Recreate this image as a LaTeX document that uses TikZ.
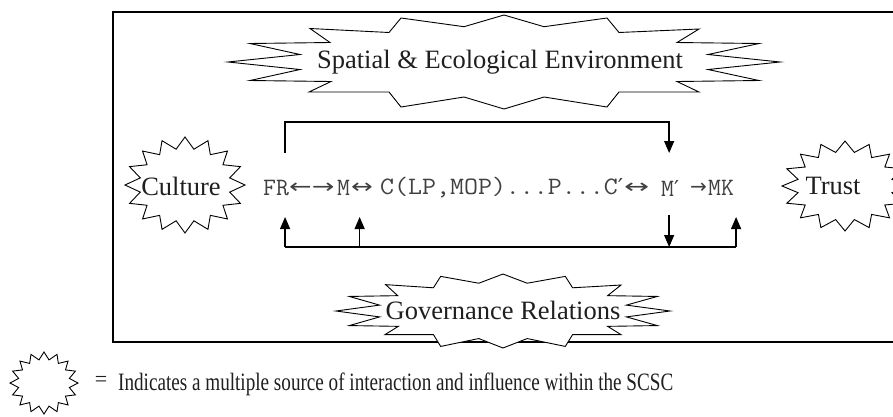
\documentclass[tikz,border=0pt]{standalone}
\usepackage{fontspec}
\setmainfont{Liberation Serif}
\newfontfamily\arrf{DejaVu Sans}
\usetikzlibrary{arrows.meta,calc}
\tikzset{
  starline/.style={draw=black,line width=0.9pt,line join=miter},
  framebox/.style={draw=black,line width=1.3pt},
  conn/.style={draw=black,line width=1.3pt},
  tip/.style={-{Triangle[length=12pt,width=10pt]}},
  lbl/.style={inner sep=0pt,text=black!88,font=\fontsize{26.5}{30}\selectfont},
  chain/.style={inner sep=0pt,anchor=west,text=black!75,font=\ttfamily\fontsize{25}{28}\selectfont},
  chainarr/.style={inner sep=0pt,anchor=west,text=black!75,font=\arrf\fontsize{20}{24}\selectfont},
}
\newcommand\prm{{\arrf\fontsize{22}{24}\selectfont ′}}
\newcommand\drawseal[4]{\draw[starline] plot[samples at={0,...,31}] ({#1+#3*(1-0.24*mod(\x,2))*cos(\x*11.25)},{#2+#4*(1-0.24*mod(\x,2))*sin(\x*11.25)}) -- cycle;}
\newcommand\bannerpath{(-276,0) -- (-204,-7.5) -- (-254,-18.5) -- (-174,-19.5) -- (-194,-33.5) -- (-115,-29.5) -- (-103,-44) -- (-40,-35.3) -- (0,-47) -- (40,-35.3) -- (103,-44) -- (115,-29.5) -- (195,-33) -- (173,-19.5) -- (255,-18.5) -- (204,-7.5) -- (276,0) -- (204,7.5) -- (255,18.5) -- (173,19.5) -- (195,30) -- (115,30) -- (103,45) -- (40,35) -- (0,47) -- (-40,35) -- (-103,45) -- (-115,30) -- (-195,30) -- (-173,19.5) -- (-254,18.5) -- (-204,7.5) -- cycle}
\begin{document}
\begin{tikzpicture}[x=1pt,y=-1pt]
\path[use as bounding box] (0,0) rectangle (893,416);
\clip (0,0) rectangle (893,416);
% frame
\draw[framebox] (893,12) -| (113,342) -- (893,342);
% banners
\begin{scope}[shift={(504,62)}]
  \draw[starline] \bannerpath;
\end{scope}
\begin{scope}[shift={(503,311)},xscale=0.605,yscale=0.787]
  \draw[starline,fill=white] \bannerpath;
\end{scope}
\node[lbl] (spatial) at (500,62) {Spatial \& Ecological Environment};
\node[lbl] (gov) at (503,310) {Governance Relations};
% seals
\drawseal{185}{185}{60}{48}
\node[lbl] (culture) at (181,186) {Culture};
\drawseal{845}{186}{63}{45}
\node[lbl] (trust) at (833,186) {Trust};
% chain
\node[chain] (fr) at (263,188) {FR};
\node[chainarr] (a1) at (289,188) {\scalebox{1.35}[1]{←→}};
\node[chain] (m) at (337,188) {M};
\node[chainarr] (a2) at (351,188) {\scalebox{1.3}[1]{↔}};
\node[chain] (mid) at (380,188) {\resizebox{243pt}{\height}{C(LP,MOP)...P...C\prm}};
\node[chainarr] (a3) at (624,188) {\scalebox{1.5}[1]{↔}};
\node[chain] (m2) at (661,188) {M\prm};
\node[chainarr] (a4) at (690,188) {→};
\node[chain] (mk) at (708,188) {MK};
% connectors
\draw[conn,tip] ($(fr.center)+(9,-35)$) |- ($(m2.center)+(-1,-66)$) -- ($(m2.center)+(-1,-35)$);
\draw[conn,tip] ($(m2.center)+(-1,27)$) -- ($(m2.center)+(-1,59)$);
\draw[conn] ($(fr.center)+(9,59)$) -- ($(mk.center)+(15,59)$);
\draw[conn,tip] ($(fr.center)+(9,59)$) -- ($(fr.center)+(9,29)$);
\draw[conn,tip] ($(m.center)+(16,59)$) -- ($(m.center)+(16,29)$);
\draw[conn,tip] ($(mk.center)+(15,59)$) -- ($(mk.center)+(15,29)$);
% legend
\drawseal{44}{383}{34}{31}
\node[inner sep=0pt,text=black!88,font=\fontsize{22}{26}\selectfont] (eq) at (101,381) {=};
\node[inner sep=0pt,anchor=west,text=black!88,font=\fontsize{25}{28}\selectfont] (legend) at (118,384) {\resizebox{555pt}{\height}{Indicates a multiple source of interaction and influence within the SCSC}};
\end{tikzpicture}
\end{document}
